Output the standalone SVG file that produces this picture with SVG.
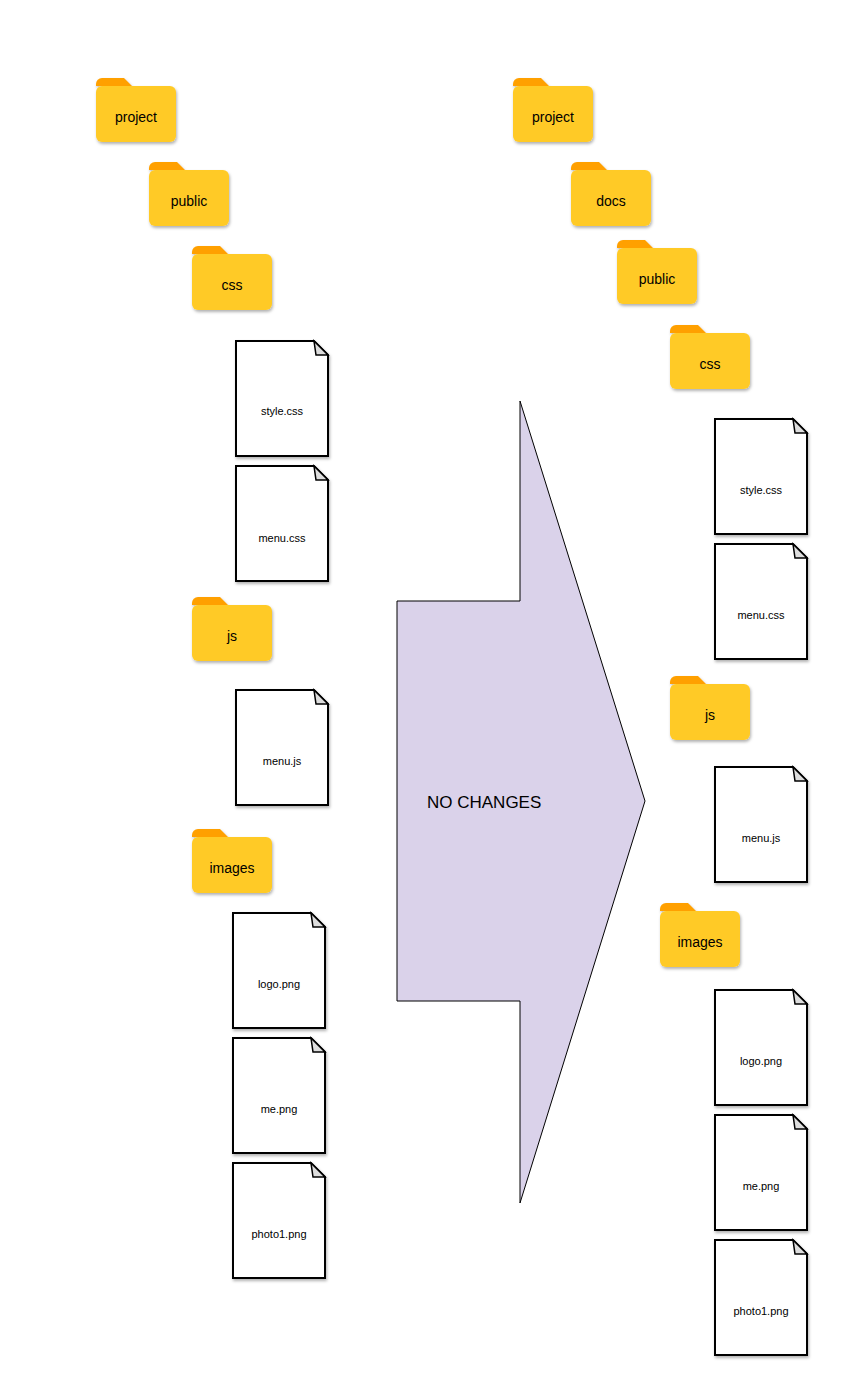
<svg xmlns="http://www.w3.org/2000/svg" xmlns:xlink="http://www.w3.org/1999/xlink" width="849" height="1397" viewBox="0 0 849 1397">
<style>
text{font-family:"Liberation Sans",Arial,sans-serif;fill:#000;text-anchor:middle}
.fl{font-size:14px}.fi{font-size:11px}
.tab{fill:#FFA000}.body{fill:#FFCA28}
.doc{fill:#fff;stroke:#000;stroke-width:2}
.fold{fill:#ddd;stroke:#000;stroke-width:1.5}
</style>
<defs>
<filter id="sh" x="-20%" y="-20%" width="140%" height="140%"><feDropShadow dx="1" dy="2" stdDeviation="1.5" flood-opacity="0.3"/></filter>
<g id="folder" filter="url(#sh)"><path class="tab" d="M0,6 a6,6 0 0 1 6,-6 h22 l8,8 h-36 z"/><rect class="body" y="8" width="80" height="56" rx="6"/></g>
<g id="file" filter="url(#sh)"><path class="doc" d="M0,0 h78 l14,14 v101 h-92 z"/><path class="fold" d="M78,0 l14,14 h-12 z"/></g>
</defs>
<g id="connectors">
<polygon points="397,601 520,601 520,401 645,801 520,1203 520,1001 397,1001" fill="#DAD2EA" stroke="#000" stroke-width="1"/>
<text x="427" y="808" style="font-size:17px;text-anchor:start">NO CHANGES</text>
</g>
<g id="l-project"><use xlink:href="#folder" x="96" y="78"/><text class="fl" x="136" y="122">project</text></g>
<g id="l-public"><use xlink:href="#folder" x="149" y="162"/><text class="fl" x="189" y="206">public</text></g>
<g id="l-css"><use xlink:href="#folder" x="192" y="246"/><text class="fl" x="232" y="290">css</text></g>
<g id="l-style"><use xlink:href="#file" x="236" y="341"/><text class="fi" x="282" y="415">style.css</text></g>
<g id="l-menucss"><use xlink:href="#file" x="236" y="466"/><text class="fi" x="282" y="542">menu.css</text></g>
<g id="l-js"><use xlink:href="#folder" x="192" y="597"/><text class="fl" x="232" y="641">js</text></g>
<g id="l-menujs"><use xlink:href="#file" x="236" y="690"/><text class="fi" x="282" y="765">menu.js</text></g>
<g id="l-images"><use xlink:href="#folder" x="192" y="829"/><text class="fl" x="232" y="873">images</text></g>
<g id="l-logo"><use xlink:href="#file" x="233" y="913"/><text class="fi" x="279" y="988">logo.png</text></g>
<g id="l-me"><use xlink:href="#file" x="233" y="1038"/><text class="fi" x="279" y="1113">me.png</text></g>
<g id="l-photo"><use xlink:href="#file" x="233" y="1163"/><text class="fi" x="279" y="1238">photo1.png</text></g>
<g id="r-project"><use xlink:href="#folder" x="513" y="78"/><text class="fl" x="553" y="122">project</text></g>
<g id="r-docs"><use xlink:href="#folder" x="571" y="162"/><text class="fl" x="611" y="206">docs</text></g>
<g id="r-public"><use xlink:href="#folder" x="617" y="240"/><text class="fl" x="657" y="284">public</text></g>
<g id="r-css"><use xlink:href="#folder" x="670" y="325"/><text class="fl" x="710" y="369">css</text></g>
<g id="r-style"><use xlink:href="#file" x="715" y="419"/><text class="fi" x="761" y="494">style.css</text></g>
<g id="r-menucss"><use xlink:href="#file" x="715" y="544"/><text class="fi" x="761" y="619">menu.css</text></g>
<g id="r-js"><use xlink:href="#folder" x="670" y="676"/><text class="fl" x="710" y="720">js</text></g>
<g id="r-menujs"><use xlink:href="#file" x="715" y="767"/><text class="fi" x="761" y="842">menu.js</text></g>
<g id="r-images"><use xlink:href="#folder" x="660" y="903"/><text class="fl" x="700" y="947">images</text></g>
<g id="r-logo"><use xlink:href="#file" x="715" y="990"/><text class="fi" x="761" y="1065">logo.png</text></g>
<g id="r-me"><use xlink:href="#file" x="715" y="1115"/><text class="fi" x="761" y="1190">me.png</text></g>
<g id="r-photo"><use xlink:href="#file" x="715" y="1240"/><text class="fi" x="761" y="1315">photo1.png</text></g>
</svg>
